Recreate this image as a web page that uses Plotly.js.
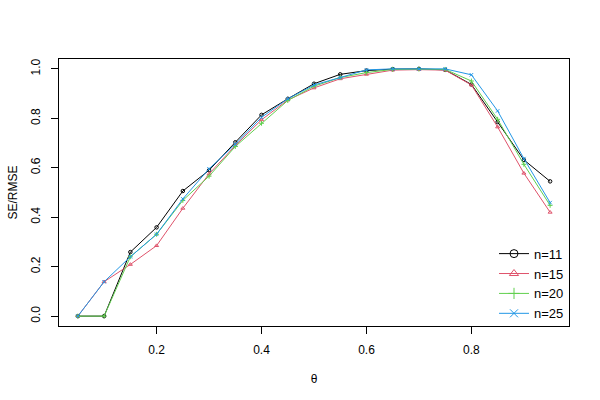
<!DOCTYPE html>
<html>
<head>
<meta charset="utf-8">
<script src="https://cdn.plot.ly/plotly-3.0.1.min.js"></script>
<style>
  html, body { margin: 0; padding: 0; background: #fff; }
  #chart { width: 600px; height: 400px; }
</style>
</head>
<body>
<div id="chart"></div>
<script>
// theta grid and SE/RMSE ratios
const theta = [0.05, 0.10, 0.15, 0.20, 0.25, 0.30, 0.35, 0.40, 0.45, 0.50,
               0.55, 0.60, 0.65, 0.70, 0.75, 0.80, 0.85, 0.90, 0.95];

const n11 = [0, 0, 0.259, 0.359, 0.506, 0.590, 0.703, 0.814, 0.879, 0.940,
             0.978, 0.993, 0.999, 1.000, 0.996, 0.937, 0.785, 0.632, 0.545];
const n15 = [0, 0.139, 0.209, 0.285, 0.436, 0.575, 0.690, 0.794, 0.874, 0.923,
             0.960, 0.978, 0.995, 0.997, 0.995, 0.935, 0.765, 0.578, 0.420];
const n20 = [0, 0, 0.240, 0.331, 0.468, 0.566, 0.686, 0.780, 0.872, 0.930,
             0.965, 0.985, 0.998, 0.999, 0.998, 0.951, 0.796, 0.614, 0.448];
const n25 = [0, 0.139, 0.240, 0.331, 0.474, 0.596, 0.695, 0.804, 0.879, 0.935,
             0.965, 0.996, 1.000, 1.000, 1.000, 0.976, 0.830, 0.637, 0.459];

const seriesNames = ['n=11', 'n=15', 'n=20', 'n=25'];
const seriesData = [n11, n15, n20, n25];
const seriesColors = ['#000000', '#DF536B', '#61D04F', '#2297E6'];
const seriesSymbols = ['circle-open', 'triangle-up-open', 'cross-thin-open', 'x-thin-open'];

// plotted series: small point symbols, no legend entry
const traces = seriesData.map((ys, i) => ({
    x: theta,
    y: ys,
    name: seriesNames[i],
    type: 'scatter',
    mode: 'lines+markers',
    showlegend: false,
    line: { color: seriesColors[i], width: 1 },
    marker: {
        symbol: seriesSymbols[i],
        size: 3.5,
        color: seriesColors[i],
        line: { color: seriesColors[i], width: 1 }
    }
}));

// legend keys use full size symbols, like the base R legend
seriesNames.forEach((name, i) => {
    traces.push({
        x: [null],
        y: [null],
        name: name,
        type: 'scatter',
        mode: 'lines+markers',
        line: { color: seriesColors[i], width: 1 },
        marker: {
            symbol: seriesSymbols[i],
            size: 8,
            color: seriesColors[i],
            line: { color: seriesColors[i], width: 1 }
        }
    });
});

const axisFont = { family: 'Liberation Sans, Arial, sans-serif', size: 12, color: '#000' };

const layout = {
    width: 600,
    height: 400,
    paper_bgcolor: '#fff',
    plot_bgcolor: '#fff',
    font: axisFont,
    margin: { l: 59, r: 31, t: 59, b: 74 },
    showlegend: true,
    legend: {
        x: 1,
        xanchor: 'right',
        y: -0.01,
        yanchor: 'bottom',
        itemwidth: 30,
        bgcolor: 'rgba(0,0,0,0)',
        font: { family: 'Liberation Sans, Arial, sans-serif', size: 13, color: '#000' }
    },
    xaxis: {
        range: [0.014, 0.986],
        tickvals: [0.2, 0.4, 0.6, 0.8],
        ticktext: ['0.2', '0.4', '0.6', '0.8'],
        ticks: 'outside',
        ticklen: 7,
        tickcolor: '#000',
        showgrid: false,
        zeroline: false,
        showline: true,
        linecolor: '#000',
        linewidth: 1,
        mirror: true,
        ticklabelstandoff: 6,
        title: { text: 'θ', standoff: 18, font: axisFont }
    },
    yaxis: {
        range: [-0.04, 1.04],
        tickvals: [0, 0.2, 0.4, 0.6, 0.8, 1.0],
        ticktext: ['0.0', '0.2', '0.4', '0.6', '0.8', '1.0'],
        tickangle: -90,
        ticks: 'outside',
        ticklen: 7,
        tickcolor: '#000',
        showgrid: false,
        zeroline: false,
        showline: true,
        linecolor: '#000',
        linewidth: 1,
        mirror: true,
        ticklabelstandoff: 6,
        title: { text: 'SE/RMSE', standoff: 9, font: axisFont }
    }
};

Plotly.newPlot('chart', traces, layout, { displayModeBar: false, staticPlot: true });
</script>
</body>
</html>
